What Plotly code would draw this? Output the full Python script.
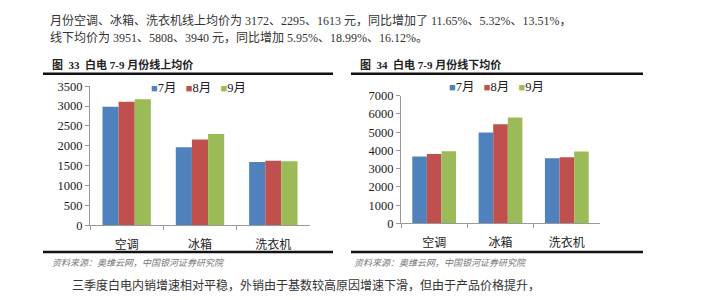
import plotly.graph_objects as go

W, H = 710, 300

categories = ["空调", "冰箱", "洗衣机"]
months = ["7月", "8月", "9月"]
colors = ["#4F81BD", "#C0504D", "#9BBB59"]

online_jul = [2980, 1960, 1590]
online_aug = [3105, 2160, 1625]
online_sep = [3172, 2295, 1613]

offline_jul = [3670, 4980, 3570]
offline_aug = [3800, 5430, 3620]
offline_sep = [3951, 5808, 3940]

online_ticks = [0, 500, 1000, 1500, 2000, 2500, 3000, 3500]
offline_ticks = [0, 1000, 2000, 3000, 4000, 5000, 6000, 7000]

para1 = "月份空调、冰箱、洗衣机线上均价为 3172、2295、1613 元，同比增加了 11.65%、5.32%、13.51%，"
para2 = "线下均价为 3951、5808、3940 元，同比增加 5.95%、18.99%、16.12%。"
cap1 = "图&nbsp;&nbsp;33&nbsp;&nbsp;白电 7-9 月份线上均价"
cap2 = "图&nbsp;&nbsp;34&nbsp;&nbsp;白电 7-9 月份线下均价"
source = "资料来源：奥维云网，中国银河证券研究院"
para3 = "三季度白电内销增速相对平稳，外销由于基数较高原因增速下滑，但由于产品价格提升，"

FONT = "Liberation Serif, Noto Sans CJK SC, serif"


def px(x):
    return x / W


def py(y):
    return 1 - y / H


fig = go.Figure()

for vals, m, c in zip([online_jul, online_aug, online_sep], months, colors):
    fig.add_trace(go.Bar(x=categories, y=vals, name=m, marker=dict(color=c, line=dict(width=0)),
                         xaxis="x", yaxis="y", showlegend=False))
for vals, m, c in zip([offline_jul, offline_aug, offline_sep], months, colors):
    fig.add_trace(go.Bar(x=categories, y=vals, name=m, marker=dict(color=c, line=dict(width=0)),
                         xaxis="x2", yaxis="y2", showlegend=False))

axis_common = dict(showgrid=False, zeroline=False, showline=True, linecolor="#999999", linewidth=1,
                   ticks="outside", ticklen=4, tickcolor="#999999", fixedrange=True)

fig.update_layout(
    width=W, height=H,
    margin=dict(l=0, r=0, t=0, b=0),
    paper_bgcolor="white", plot_bgcolor="white",
    barmode="group", bargap=0.34, bargroupgap=0,
    font=dict(family=FONT, size=12, color="#222222"),
    xaxis=dict(domain=[px(90), px(310)], anchor="y", tickson="boundaries", ticklabelstandoff=8,
               tickfont=dict(size=12, family=FONT), **axis_common),
    yaxis=dict(domain=[py(229), py(83)], anchor="x", range=[0, 3500], tickvals=online_ticks,
               tickfont=dict(size=12.5, family=FONT), **axis_common),
    xaxis2=dict(domain=[px(401), px(600)], anchor="y2", tickson="boundaries", ticklabelstandoff=8,
                tickfont=dict(size=12, family=FONT), **axis_common),
    yaxis2=dict(domain=[py(227), py(93)], anchor="x2", range=[0, 7000], tickvals=offline_ticks,
                tickfont=dict(size=12.5, family=FONT), **axis_common),
    showlegend=False,
)

# Legend text built from the series names and colours
legend_text = "&nbsp;&nbsp;&nbsp;".join(
    f"<span style='color:{c};font-size:11px'>■</span>{m}" for m, c in zip(months, colors)
)
for lx, ly in [(198, 85), (497, 84)]:
    fig.add_annotation(xref="paper", yref="paper", x=px(lx), y=py(ly), text=legend_text,
                       showarrow=False, xanchor="center", yanchor="middle",
                       font=dict(size=12.5, color="#222222", family=FONT))

# Thick rules
for (x0, x1) in [(43, 333), (351, 643)]:
    for yy in [70, 257]:
        fig.add_shape(type="line", xref="paper", yref="paper", x0=px(x0), x1=px(x1),
                      y0=py(yy), y1=py(yy), line=dict(color="#111111", width=2.5))

anns = [
    (48, 14, para1, 12, "#333333"),
    (48, 33, para2, 12, "#333333"),
    (50, 60, "<b>" + cap1 + "</b>", 11, "#222222"),
    (358, 60, "<b>" + cap2 + "</b>", 11, "#222222"),
    (50, 269, "<i>" + source + "</i>", 9, "#777777"),
    (352, 269, "<i>" + source + "</i>", 9, "#777777"),
    (70, 292, para3, 12, "#333333"),
]
for x, y, t, s, c in anns:
    fig.add_annotation(xref="paper", yref="paper", x=px(x), y=py(y), text=t, showarrow=False,
                       xanchor="left", yanchor="middle", font=dict(size=s, color=c, family=FONT))

fig.write_html("out.html")
